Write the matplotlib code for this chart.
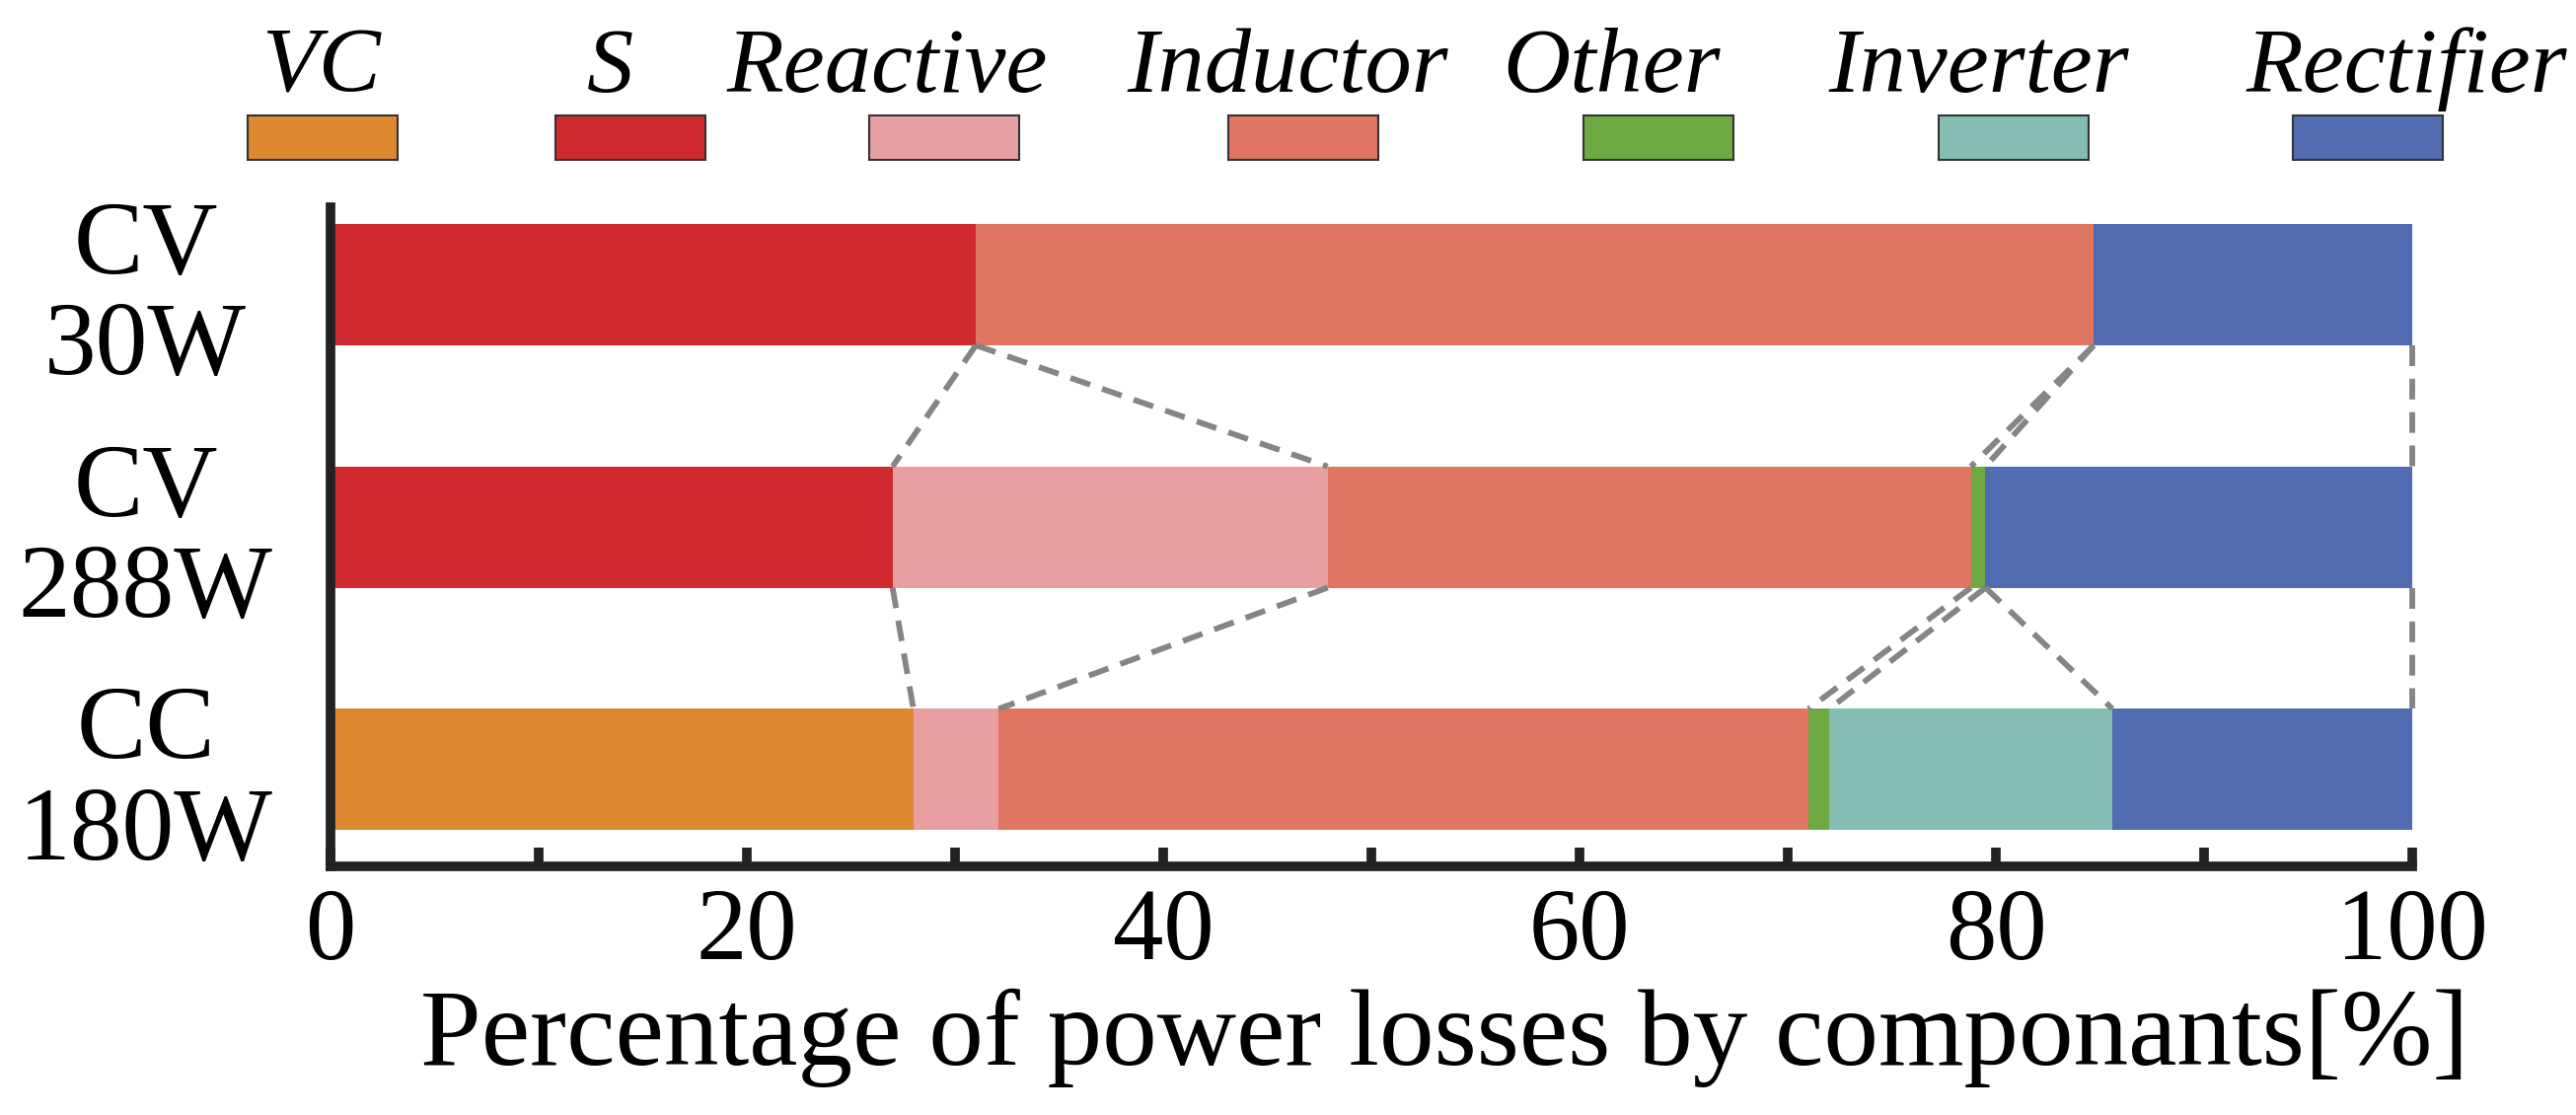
import numpy as np
import matplotlib
matplotlib.use("Agg")
import matplotlib.pyplot as plt
from matplotlib.patches import Rectangle

# ---- data (percent of total loss) ----
cases = ["CV\n30W", "CV\n288W", "CC\n180W"]
components = ["VC", "S", "Reactive", "Inductor", "Other", "Inverter", "Rectifier"]
vc = [0.0, 0.0, 28.0]
s = [31.0, 27.0, 0.0]
reactive = [0.0, 20.9, 4.1]
inductor = [53.7, 30.9, 38.9]
other = [0.0, 0.7, 1.0]
inverter = [0.0, 0.0, 13.6]
rectifier = [15.3, 20.5, 14.4]

colors = ["#DE8832", "#D02A31", "#E79FA2", "#E07562", "#6DAA42", "#84BDB2", "#516CB0"]

# dashed guides: (upper bar, component end on upper bar, component end on lower bar)
links = [
    (0, "S", "S"), (0, "S", "Reactive"),
    (0, "Inductor", "Inductor"), (0, "Inductor", "Other"),
    (0, "Rectifier", "Rectifier"),
    (1, "S", "VC"), (1, "Reactive", "Reactive"),
    (1, "Inductor", "Inductor"), (1, "Other", "Other"),
    (1, "Other", "Inverter"), (1, "Rectifier", "Rectifier"),
]

W, H = 2611, 1130
plt.rcParams["font.family"] = ["Liberation Serif", "DejaVu Serif"]

fig = plt.figure(figsize=(W / 100, H / 100), dpi=100)
ax = fig.add_axes([335 / W, 1 - 878 / H, 2110 / W, 668 / H])

vals = np.array([vc, s, reactive, inductor, other, inverter, rectifier])  # comp x case
ypos = np.array([2, 1, 0])
bar_h = 0.5
left = np.zeros(len(cases))
for i, name in enumerate(components):
    ax.barh(ypos, vals[i], left=left, height=bar_h, color=colors[i], linewidth=0)
    left = left + vals[i]

ends = np.cumsum(vals, axis=0)  # right end of each component per case
for up, cu, cl in links:
    x1 = ends[components.index(cu), up]
    x2 = ends[components.index(cl), up + 1]
    ax.plot([x1, x2], [ypos[up] - bar_h / 2, ypos[up + 1] + bar_h / 2],
            color="#858585", lw=4.2, ls=(0, (3.6, 2.2)), clip_on=False, zorder=3)

ax.set_xlim(0, 100)
ax.set_ylim(-0.4, 2.32)

for side in ["top", "right"]:
    ax.spines[side].set_visible(False)
for side in ["left", "bottom"]:
    ax.spines[side].set_linewidth(7)
    ax.spines[side].set_color("#222222")
    ax.spines[side].set_capstyle("projecting")

ax.set_xticks(np.arange(0, 101, 20))
ax.set_xticks(np.arange(10, 100, 20), minor=True)
ax.tick_params(axis="x", which="both", direction="in", length=14, width=7,
               color="#222222", labelsize=74, pad=16)
ax.set_yticks(ypos)
ax.set_yticklabels(cases, fontsize=76, linespacing=1.08)
ax.tick_params(axis="y", length=0, pad=135)
for lbl in ax.get_yticklabels():
    lbl.set_ha("center")
    lbl.set_multialignment("center")

ax.set_xlabel("Percentage of power losses by componants[%]", fontsize=80)
ax.xaxis.set_label_coords(0.535, -0.185)

# legend drawn on the figure: label above each swatch
patch_left = [251, 563, 881, 1245, 1605, 1965, 2324]
text_x = [325, 619, 899, 1305, 1633, 2006, 2439]
for i, name in enumerate(components):
    fig.add_artist(Rectangle((patch_left[i] / W, 1 - 162 / H), 152 / W, 45 / H,
                             transform=fig.transFigure, facecolor=colors[i],
                             edgecolor="#333333", linewidth=1.5))
    fig.text(text_x[i] / W, 1 - 93 / H, name, ha="center", va="baseline",
             fontsize=68, style="italic")

fig.savefig("out.png", dpi=100)
